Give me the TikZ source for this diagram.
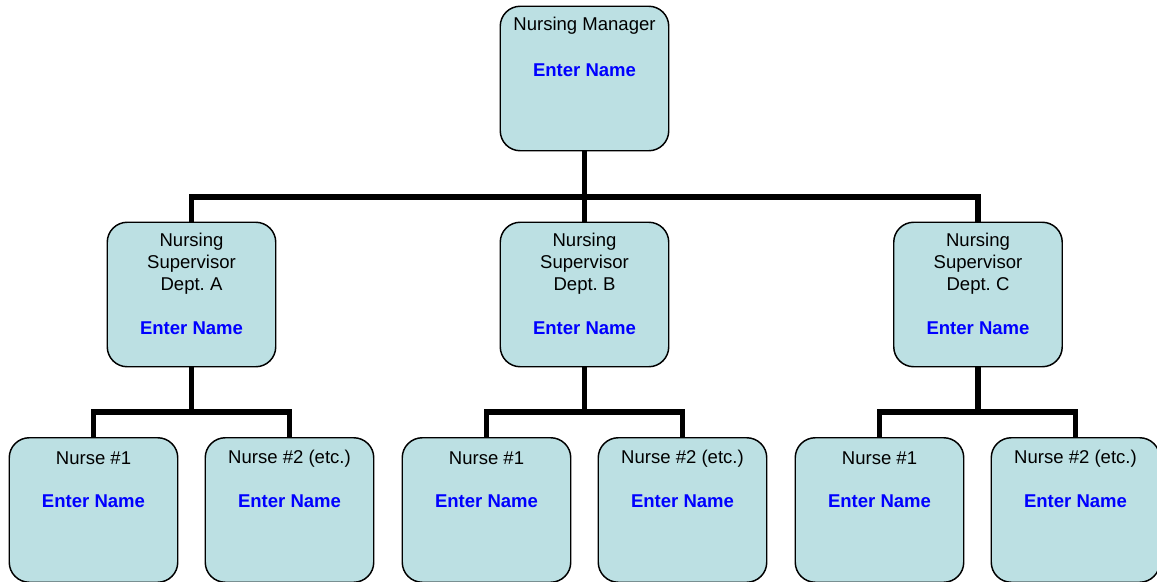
\documentclass[tikz,border=0pt]{standalone}
\usepackage{fontspec}
\setmainfont{Liberation Sans}
\usetikzlibrary{calc,backgrounds}
\definecolor{boxfill}{RGB}{188,224,227}
\definecolor{namebl}{RGB}{0,0,255}
\frenchspacing
\begin{document}
\begin{tikzpicture}[x=0.75pt,y=-0.75pt,
  box/.style={draw=black,line width=1.1pt,fill=boxfill,rounded corners=15pt,
    minimum width=168.5*0.75pt,minimum height=144.5*0.75pt,inner sep=0pt},
  bar/.style={line width=3.8pt,line cap=rect},
  ttl/.style={font=\fontsize{13.9}{16.5}\selectfont,align=center,inner sep=0pt,text=black},
  nm/.style={font=\fontsize{13.9}{16}\selectfont\bfseries,text=namebl,inner sep=0pt}]
\useasboundingbox (0,0) rectangle (1157,582);
\coordinate (jt) at (584.5,197);
\coordinate (ja) at (191.5,412);
\coordinate (jb) at (584.5,412);
\coordinate (jc) at (978,412);
% boxes
\node[box] (mgr) at (584.5,78.5) {};
\node[box] (sa) at (191.5,294.5) {};
\node[box] (sb) at (584.5,294.5) {};
\node[box] (sc) at (978,294.5) {};
\node[box] (n1) at (93.5,510) {};
\node[box] (n2) at (289.5,510) {};
\node[box] (n3) at (486.5,510) {};
\node[box] (n4) at (682.5,510) {};
\node[box] (n5) at (879.5,510) {};
\node[box] (n6) at (1075.5,510) {};
% connectors (behind boxes)
\begin{scope}[on background layer]
\draw[bar] (mgr.south) -- (jt);
\draw[bar] (sa.north) |- (jt) -| (sc.north);
\draw[bar] (jt) -- (sb.north);
\draw[bar] (sa.south) -- (ja);
\draw[bar] (n1.north) |- (ja) -| (n2.north);
\draw[bar] (sb.south) -- (jb);
\draw[bar] (n3.north) |- (jb) -| (n4.north);
\draw[bar] (sc.south) -- (jc);
\draw[bar] (n5.north) |- (jc) -| (n6.north);
\end{scope}
% texts
\node[ttl] (tmgr) at ($(mgr.north)+(0,20.5)$) {Nursing Manager};
\node[nm] (emgr) at ($(mgr.north)+(0,65)$) {Enter Name};
\foreach \s/\d in {sa/A,sb/B,sc/C}{
  \node[ttl] (t\s) at ($(\s.north)+(0,42)$) {Nursing\\Supervisor\\Dept. \d};
  \node[nm] (e\s) at ($(\s.north)+(0,107)$) {Enter Name};
}
\foreach \n/\t in {n1/{Nurse \#1},n2/{Nurse \#2 (etc.)},n3/{Nurse \#1},n4/{Nurse \#2 (etc.)},n5/{Nurse \#1},n6/{Nurse \#2 (etc.)}}{
  \node[ttl] (t\n) at ($(\n.north)+(0,21.5)$) {\t};
  \node[nm] (e\n) at ($(\n.north)+(0,64.5)$) {Enter Name};
}
\end{tikzpicture}
\end{document}
